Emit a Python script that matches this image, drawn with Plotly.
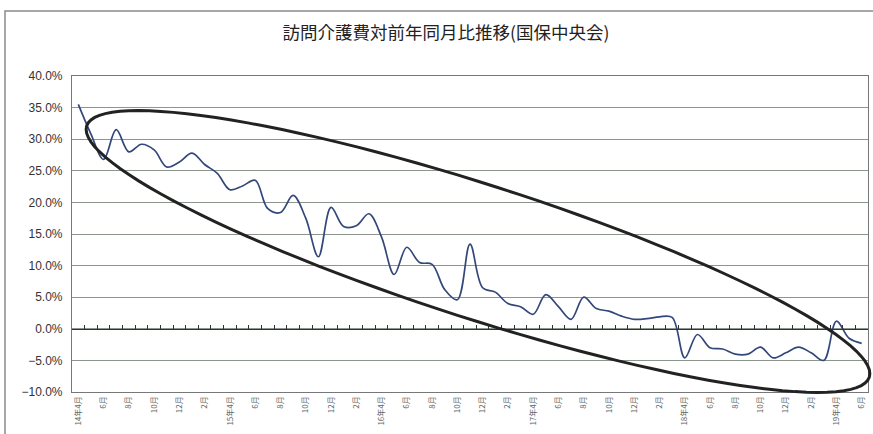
import math
import plotly.graph_objects as go

# ---- data ----
title_text = "訪問介護費対前年同月比推移(国保中央会)"
values = [35.5, 30.8, 26.8, 31.5, 28.0, 29.2, 28.3, 25.6, 26.4, 27.8,
          26.0, 24.6, 22.0, 22.6, 23.5, 19.0, 18.4, 21.1, 17.5, 11.4,
          19.2, 16.2, 16.3, 18.2, 14.5, 8.6, 12.9, 10.5, 10.2, 6.2,
          4.6, 13.4, 6.5, 5.8, 4.0, 3.5, 2.3, 5.4, 3.5, 1.5,
          5.0, 3.2, 2.8, 2.0, 1.5, 1.6, 1.9, 1.8, -4.6, -0.9,
          -3.0, -3.2, -4.0, -4.0, -2.9, -4.6, -3.8, -2.9, -3.8, -5.0,
          1.2, -1.5, -2.3]
tick_labels = ["14年4月", "6月", "8月", "10月", "12月", "2月",
               "15年4月", "6月", "8月", "10月", "12月", "2月",
               "16年4月", "6月", "8月", "10月", "12月", "2月",
               "17年4月", "6月", "8月", "10月", "12月", "2月",
               "18年4月", "6月", "8月", "10月", "12月", "2月",
               "19年4月", "6月"]
month_index = list(range(len(values)))
tick_positions = month_index[::2]

# ---- layout geometry ----
W, H = 873, 434
ML, MR, MT, MB = 72, 5, 76, 42
PW, PH = W - ML - MR, H - MT - MB

def px_to_paper(px, py):
    return (px - ML) / PW, (H - MB - py) / PH

# hand-drawn ellipse annotation (pixel space parameters)
ell_cx, ell_cy, ell_a, ell_b, ell_ang = 478.0, 251.5, 411.0, 67.0, 17.8
pts = []
th = math.radians(ell_ang)
for k in range(121):
    t = 2 * math.pi * k / 120
    ex = ell_a * math.cos(t)
    ey = ell_b * math.sin(t)
    px = ell_cx + ex * math.cos(th) - ey * math.sin(th)
    py = ell_cy + ex * math.sin(th) + ey * math.cos(th)
    pts.append(px_to_paper(px, py))
ell_path = "M " + " L ".join(f"{x:.4f},{y:.4f}" for x, y in pts) + " Z"

fx0, fy0 = px_to_paper(5, 11)
fx1, fy1 = px_to_paper(890, 450)

fig = go.Figure()
fig.add_trace(go.Scatter(
    x=month_index, y=values, mode="lines",
    line=dict(color="#33477a", width=1.7, shape="spline", smoothing=1.0),
    showlegend=False, hoverinfo="skip"))
# carrier trace for the zero-line axis with monthly tick marks
fig.add_trace(go.Scatter(x=[month_index[0]], y=[None], xaxis="x2", yaxis="y",
                         showlegend=False, hoverinfo="skip"))

fig.update_layout(
    width=W, height=H,
    margin=dict(l=ML, r=MR, t=MT, b=MB),
    paper_bgcolor="white", plot_bgcolor="white",
    font=dict(family="Noto Sans CJK JP", color="#333333"),
    title=dict(text=title_text, x=446 / W, xref="container", xanchor="center",
               y=1 - 33 / H, yref="container", yanchor="middle",
               font=dict(size=17.5, color="#222222", family="Noto Sans CJK JP")),
    xaxis=dict(range=[-0.5, len(values) - 0.5], tickvals=tick_positions,
               ticktext=tick_labels, tickangle=-90, showgrid=False,
               zeroline=False, showline=True, linecolor="#777777", linewidth=1.2,
               mirror=True, ticks="", automargin=False,
               tickfont=dict(size=8, color="#666666", family="Noto Sans CJK JP")),
    xaxis2=dict(overlaying="x", anchor="free", position=0.2, side="bottom",
                range=[-0.5, len(values) - 0.5], tick0=-0.5, dtick=1,
                ticks="inside", ticklen=4, tickcolor="#333333", tickwidth=1,
                showline=True, linecolor="#333333", linewidth=1.2,
                showticklabels=False, showgrid=False, zeroline=False),
    yaxis=dict(range=[-10, 40], dtick=5, tickformat=".1f", ticksuffix="%",
               showgrid=True, gridcolor="#8d968d", gridwidth=1.4,
               zeroline=False, showline=True, linecolor="#777777", linewidth=1.2,
               mirror=True, ticks="", ticklabelstandoff=6, automargin=False,
               tickfont=dict(size=12, color="#333333", family="Liberation Sans")),
    shapes=[
        dict(type="rect", xref="paper", yref="paper", x0=fx0, y0=fy1, x1=fx1, y1=fy0,
             line=dict(color="#8a8a8a", width=1.5), fillcolor="rgba(0,0,0,0)",
             layer="below"),
        dict(type="path", xref="paper", yref="paper", path=ell_path,
             line=dict(color="#222222", width=3), fillcolor="rgba(0,0,0,0)"),
    ],
)

fig.write_html("out.html", config={"displayModeBar": False},
               post_script="document.body.style.margin='0';document.body.style.overflow='hidden';")
